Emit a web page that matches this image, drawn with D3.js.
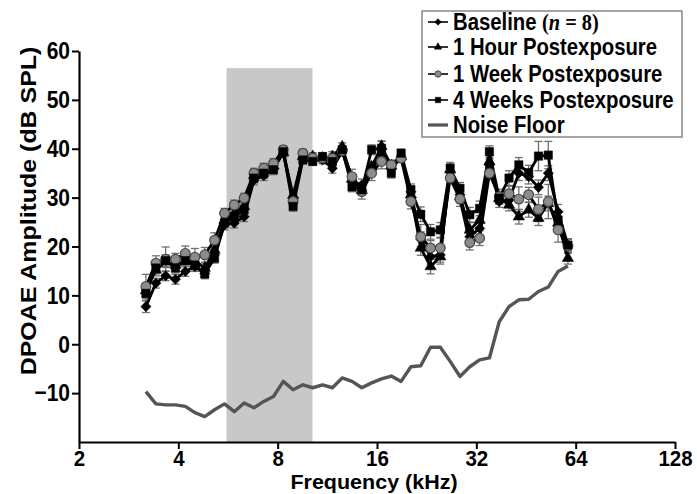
<!DOCTYPE html>
<html><head><meta charset="utf-8">
<script src="https://cdn.jsdelivr.net/npm/d3@7"></script>
<style>
body{margin:0;background:#fff}
svg{display:block}
text{font-family:"Liberation Sans",Arial,sans-serif;font-weight:bold;fill:#000}
</style>
</head><body>
<svg id="c" width="697" height="494"></svg>
<script>
// ---------- data ----------
const freqs = [3.19,3.42,3.66,3.92,4.20,4.49,4.81,5.15,5.52,5.91,6.33,6.78,7.26,7.77,8.32,8.91,9.54,10.22,10.94,11.72,12.55,13.44,14.39,15.41,16.51,17.68,18.93,20.27,21.71,23.25,24.89,26.66,28.55,30.57,32.74,35.06,37.54,40.20,43.05,46.11,49.37,52.87,56.62,60.64];
const baseline = [7.7,12.5,14.0,13.3,14.9,15.9,14.5,18.3,24.4,24.8,26.1,33.6,34.5,36.0,39.1,29.5,38.1,37.7,37.7,36.0,39.4,33.3,32.6,35.7,38.7,36.0,38.1,31.2,21.5,17.9,18.3,35.3,30.6,22.0,23.7,36.7,29.2,29.5,35.0,34.3,32.1,35.0,27.1,20.3];
const hour1 = [11.0,15.2,16.9,16.2,17.0,17.0,15.6,19.3,25.4,26.8,28.2,34.6,35.5,36.5,39.2,30.5,38.4,38.4,38.1,38.4,40.4,33.8,31.5,36.3,40.5,36.5,38.4,30.6,19.7,15.9,17.9,35.7,30.2,23.4,25.4,37.4,29.9,28.5,26.1,27.5,25.8,28.8,24.8,17.6];
const week1 = [11.8,16.6,17.4,17.4,18.6,17.8,18.3,21.3,26.8,28.5,29.9,35.0,36.0,37.0,39.8,29.2,39.1,38.1,38.1,38.0,39.6,34.3,31.2,35.0,37.4,36.7,38.1,29.2,22.0,19.7,19.7,34.0,29.7,20.8,21.7,35.0,30.2,30.8,29.7,30.6,27.6,29.2,23.4,20.1];
const week4 = [10.4,15.6,17.1,15.6,17.1,16.2,14.4,17.6,24.8,26.1,27.5,34.0,35.0,35.7,39.4,28.2,37.7,37.4,38.4,37.4,39.8,32.2,31.6,39.8,40.1,35.0,39.1,31.6,26.6,23.0,23.4,36.0,31.9,26.5,27.8,39.4,29.9,34.0,36.7,35.1,38.5,38.7,25.4,20.3];
const noise = [-9.7,-12.2,-12.4,-12.4,-12.7,-14.0,-14.8,-13.4,-12.2,-13.8,-12.0,-13.0,-11.7,-10.7,-7.6,-9.3,-8.3,-8.9,-8.3,-8.9,-6.9,-7.6,-8.9,-7.9,-7.1,-6.5,-7.6,-4.6,-4.4,-0.6,-0.6,-3.5,-6.6,-4.6,-3.2,-2.8,4.6,7.7,9.1,9.2,10.8,11.7,14.9,16.0];
const baselineSem = [1.2,1,1,1,1,1,1,1,1,1,1,1,1,1,0.8,1,0.8,0.8,0.8,1,0.8,1,1.2,1,1,1,0.8,1.2,1.5,1.5,1.5,1.2,1.2,1.5,1.5,1.2,1.2,1.2,1.5,1.5,1.5,1.5,1.5,1.2];
const hour1Sem = [1.5,1.2,1.2,1,1,1,1,1,1,1,1,1,1.5,1,0.8,1,0.8,0.8,0.8,1,0.8,1,1,1,1,1,0.8,1.5,1.5,1.5,1.5,1.2,1.2,1.5,1.5,1.2,1.2,1.2,1.5,1.5,1.5,1.5,1.5,1.2];
const week1Sem = [2.5,1.5,2.5,1.2,1.5,1.8,1.5,1.5,1,1,1,1,1,1,0.8,1.5,0.8,0.8,0.8,1,0.8,1.5,1.5,1.5,1.5,1,0.8,1.5,2.5,1.5,2,1.2,1.5,1.5,1.5,1.2,1.5,1.5,2.5,1.5,2.5,3.5,2.5,1.5];
const week4Sem = [1.5,1.2,1.2,1,1.2,1,1,1,1,1,1,1,1,1,0.8,1,0.8,0.8,0.8,1,0.8,1,1,1,1.5,1,0.8,1.2,1.5,1.5,1.5,1.2,1.2,1.5,1.5,1.2,1.2,1.5,1.5,1.5,3,2.8,1.5,1.2];
const exposureBand = [5.6, 10.2];
const exposureBandTop = 56.5;
const xTicks = [2,4,8,16,32,64,128];
const yTicks = [-10,0,10,20,30,40,50,60];
const legendLabels = ["Baseline","1 Hour Postexposure","1 Week Postexposure","4 Weeks Postexposure","Noise Floor"];

// ---------- chart ----------
const VS = 1.16; // vertical text stretch seen in the reference
const svg = d3.select('#c');
const x = d3.scaleLog().base(2).domain([2,128]).range([79,675]);
const y = d3.scaleLinear().domain([-20,60]).range([442,51]);

svg.append('rect')
  .attr('x', x(exposureBand[0])).attr('width', x(exposureBand[1]) - x(exposureBand[0]))
  .attr('y', y(exposureBandTop)).attr('height', y(-20) - y(exposureBandTop))
  .attr('fill', '#c8c8c8');

const line = d3.line().x((d,i) => x(freqs[i])).y(d => y(d));

svg.append('path').datum(noise).attr('d', line)
  .attr('fill','none').attr('stroke','#555').attr('stroke-width',3.4).attr('stroke-linejoin','round');

const series = [
  {vals: baseline, sem: baselineSem, shape: 'diamond', fill:'#000', stroke:'#000'},
  {vals: hour1, sem: hour1Sem, shape: 'triangle', fill:'#000', stroke:'#000'},
  {vals: week1, sem: week1Sem, shape: 'circle', fill:'#8c8c8c', stroke:'#4a4a4a'},
  {vals: week4, sem: week4Sem, shape: 'square', fill:'#000', stroke:'#000'}
];

function symPath(shape, scale) {
  const s = scale || 1;
  if (shape === 'diamond') return d3.symbol(d3.symbolSquare, 52*s*s)();
  if (shape === 'triangle') return d3.symbol(d3.symbolTriangle, 56*s*s)();
  if (shape === 'circle') return d3.symbol(d3.symbolCircle, 74*s*s)();
  return d3.symbol(d3.symbolSquare, 70*s*s)();
}

// error bars
const eg = svg.append('g').attr('stroke','#707070').attr('stroke-width',1.3).attr('fill','none');
series.forEach(s => {
  s.vals.forEach((v,i) => {
    const cx = x(freqs[i]);
    const y1 = y(v + s.sem[i]), y0 = y(v - s.sem[i]);
    eg.append('line').attr('x1',cx).attr('x2',cx).attr('y1',y1).attr('y2',y0);
    eg.append('line').attr('x1',cx-4).attr('x2',cx+4).attr('y1',y1).attr('y2',y1);
    eg.append('line').attr('x1',cx-4).attr('x2',cx+4).attr('y1',y0).attr('y2',y0);
  });
});

// lines
series.forEach(s => {
  svg.append('path').datum(s.vals).attr('d', line)
    .attr('fill','none').attr('stroke','#000').attr('stroke-width',2.8).attr('stroke-linejoin','round');
});

// markers
series.forEach(s => {
  svg.append('g').selectAll('path').data(s.vals).join('path')
    .attr('d', symPath(s.shape))
    .attr('transform', (d,i) => `translate(${x(freqs[i])},${y(d)})` + (s.shape==='diamond' ? ' rotate(45)' : ''))
    .attr('fill', s.fill).attr('stroke', s.stroke).attr('stroke-width', s.shape==='circle'?1.2:0.5);
});

// axes
const xAxis = d3.axisBottom(x).tickValues(xTicks).tickFormat(d3.format('d')).tickSize(7).tickSizeOuter(0);
const gx = svg.append('g').attr('transform','translate(0,442)').call(xAxis);
const yAxis = d3.axisLeft(y).tickValues(yTicks).tickFormat(d => d < 0 ? '\u2212' + Math.abs(d) : d).tickSize(7).tickSizeOuter(0);
const gy = svg.append('g').attr('transform','translate(79,0)').call(yAxis);
[gx, gy].forEach(g => {
  g.select('.domain').attr('stroke','#000').attr('stroke-width',2.2);
  g.selectAll('.tick line').attr('stroke','#000').attr('stroke-width',2);
  g.selectAll('.tick text').attr('font-size',21).attr('font-family','"Liberation Sans",Arial,sans-serif').attr('font-weight','bold').attr('fill','#000');
});
gx.selectAll('.tick text').attr('font-size',20.5).attr('y',6).attr('dy','0.75em').attr('transform','scale(1,1.1)');
gy.selectAll('.tick text').attr('x',-9).attr('transform',`scale(1,${VS})`);

svg.append('text').attr('transform','translate(374,489) scale(1,0.93)').attr('text-anchor','middle').attr('font-size',21.5).text('Frequency (kHz)');
svg.append('text').attr('transform',`translate(36,211) scale(1,${VS}) rotate(-90)`).attr('text-anchor','middle').attr('font-size',21.5).text('DPOAE Amplitude (dB SPL)');

// legend
const lg = svg.append('g');
lg.append('rect').attr('x',422).attr('y',11).attr('width',260).attr('height',126)
  .attr('fill','#fff').attr('stroke','#888').attr('stroke-width',1.5);
const rows = [22,47,74,100,125];
legendLabels.forEach((lab,k) => {
  const ry = rows[k];
  if (k < 4) {
    const s = series[k];
    lg.append('line').attr('x1',428).attr('x2',448).attr('y1',ry).attr('y2',ry).attr('stroke','#000').attr('stroke-width',1.6);
    lg.append('path').attr('d', symPath(s.shape, 0.65))
      .attr('transform', `translate(438,${ry})` + (s.shape==='diamond' ? ' rotate(45)' : ''))
      .attr('fill', s.fill).attr('stroke', s.stroke).attr('stroke-width', s.shape==='circle'?1:0.5);
  } else {
    lg.append('line').attr('x1',428).attr('x2',448).attr('y1',ry).attr('y2',ry).attr('stroke','#555').attr('stroke-width',3.2);
  }
  const t = lg.append('text').attr('transform',`translate(453,${ry}) scale(1,${VS})`).attr('dy','0.36em').attr('font-size',20.3);
  if (k === 0) {
    t.append('tspan').text(lab + ' ');
    t.append('tspan').attr('font-family','"Liberation Serif","Times New Roman",serif').text('(');
    t.append('tspan').attr('font-family','"Liberation Serif","Times New Roman",serif').attr('font-style','italic').text('n');
    t.append('tspan').attr('font-family','"Liberation Serif","Times New Roman",serif').text(' = 8)');
  } else {
    t.text(lab);
  }
});
</script>
</body></html>
